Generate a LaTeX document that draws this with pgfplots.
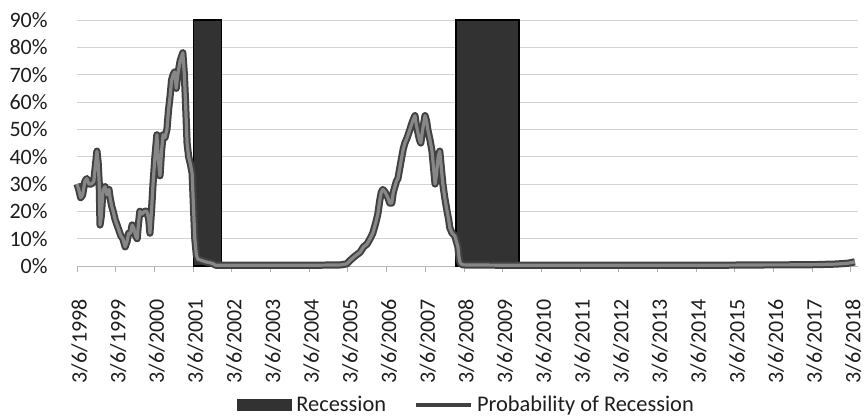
\documentclass[border=0pt]{standalone}
\usepackage{pgfplots}
\pgfplotsset{compat=1.18}
\usepackage{fontspec}
\setmainfont{Carlito}
\usetikzlibrary{calc}
\definecolor{recfill}{RGB}{50,50,50}
\definecolor{lineout}{RGB}{65,65,65}
\definecolor{linein}{RGB}{135,135,135}
\definecolor{txt}{RGB}{30,30,30}
\begin{document}
\begin{tikzpicture}
\begin{axis}[
  name=ax,
  width=390.5pt, height=123pt, scale only axis,
  xmin=1998.175, xmax=2018.36,
  ymin=0, ymax=90,
  xtick={1998.175,1999.175,2000.175,2001.175,2002.175,2003.175,2004.175,2005.175,2006.175,2007.175,2008.175,2009.175,2010.175,2011.175,2012.175,2013.175,2014.175,2015.175,2016.175,2017.175,2018.175},
  xticklabels={3/6/1998,3/6/1999,3/6/2000,3/6/2001,3/6/2002,3/6/2003,3/6/2004,3/6/2005,3/6/2006,3/6/2007,3/6/2008,3/6/2009,3/6/2010,3/6/2011,3/6/2012,3/6/2013,3/6/2014,3/6/2015,3/6/2016,3/6/2017,3/6/2018},
  ytick={0,10,...,90},
  yticklabel={\pgfmathprintnumber{\tick}\%},
  /pgf/number format/assume math mode=true,
  ticklabel style={font=\fontsize{11}{13}\selectfont, text=txt},
  xticklabel style={rotate=90, anchor=east, inner sep=0pt, xshift=-13.5pt, yshift=-1.2pt},
  yticklabel style={anchor=east, inner sep=0pt, xshift=-11.5pt},
  separate axis lines,
  axis x line*=bottom,
  axis y line*=left,
  x axis line style={draw=gray!55, thin, -},
  y axis line style={draw=none},
  tick align=outside,
  major tick length=3pt,
  xtick style={draw=gray!60, thin},
  ytick style={draw=none},
  ymajorgrids,
  grid style={draw=gray!35, thin},
  legend columns=2,
  legend style={at={(0.5,-0.565)}, anchor=center, draw=none, fill=none,
    font=\fontsize{11.2}{13}\selectfont, text=txt,
    cells={inner xsep=0.5pt},
    /tikz/every even column/.append style={column sep=12pt}},
  legend cell align=left,
  clip=false,
]
\addplot[fill=recfill, draw=black, line width=0.6pt,
  legend image code/.code={\fill[recfill] (0pt,-2.6pt) rectangle (27pt,2.6pt);}]
  coordinates {(2001.19,0) (2001.19,90) (2001.91,90) (2001.91,0)} -- cycle;
\addlegendentry{Recession}
\addplot[fill=recfill, draw=black, line width=0.6pt, forget plot]
  coordinates {(2007.97,0) (2007.97,90) (2009.6,90) (2009.6,0)} -- cycle;
\pgfplotstableread{
x y
1998.175 30
1998.22 28
1998.27 25
1998.32 26
1998.38 31
1998.43 32
1998.48 30
1998.55 30
1998.61 31
1998.66 38
1998.69 42
1998.72 38
1998.75 30
1998.77 15
1998.80 18
1998.85 28
1998.90 29
1998.95 26
1999.00 28
1999.03 25
1999.07 22
1999.11 20
1999.16 17
1999.21 15
1999.26 13
1999.31 11
1999.36 10
1999.42 7
1999.47 9
1999.51 12
1999.56 12
1999.60 15
1999.64 14
1999.69 11
1999.73 10
1999.76 15
1999.80 20
1999.85 19
1999.92 20
1999.98 20
2000.03 17
2000.06 12
2000.10 20
2000.14 30
2000.19 40
2000.24 48
2000.27 40
2000.32 33
2000.36 42
2000.40 48
2000.45 47
2000.50 50
2000.54 57
2000.58 62
2000.62 68
2000.66 70
2000.70 71
2000.74 65
2000.78 70
2000.84 75
2000.91 78
2000.95 70
2000.98 60
2001.02 45
2001.06 40
2001.11 37
2001.15 34
2001.19 20
2001.22 10
2001.26 4
2001.30 2.5
2001.40 2
2001.50 1.5
2001.60 1.2
2001.70 0.8
2001.75 0.3
2002.50 0.3
2003.50 0.3
2004.50 0.3
2005.00 0.4
2005.15 0.8
2005.23 2
2005.35 3.5
2005.49 5
2005.58 7
2005.67 8
2005.75 10
2005.82 12
2005.90 16
2005.95 19
2006.00 24
2006.04 27
2006.08 28
2006.14 27
2006.21 25
2006.26 23
2006.31 23
2006.35 27
2006.39 29
2006.43 31
2006.47 32
2006.52 36
2006.57 40
2006.61 43
2006.65 45
2006.71 47
2006.78 50
2006.85 53
2006.91 55
2006.94 52
2006.99 48.5
2007.03 46
2007.06 45
2007.11 50
2007.17 55
2007.21 53
2007.24 50
2007.30 46
2007.35 42
2007.39 36
2007.43 30
2007.47 34
2007.51 40
2007.55 42
2007.59 36
2007.63 30
2007.68 25
2007.74 20
2007.78 17
2007.81 14
2007.87 12
2007.94 11
2007.98 9
2008.02 7
2008.05 3
2008.08 1
2008.15 0.4
2009.00 0.3
2010.00 0.3
2011.00 0.3
2012.00 0.3
2013.00 0.3
2014.00 0.3
2015.00 0.3
2016.00 0.4
2016.50 0.4
2017.30 0.5
2017.80 0.7
2018.10 1.0
2018.28 1.5
}\probtable
\addplot[lineout, line width=3.6pt, line join=round,
  legend image code/.code={\draw[lineout, line width=2pt] (0pt,0pt) -- (27.5pt,0pt);}]
  table[x=x, y=y] {\probtable};
\addlegendentry{Probability of Recession}
\addplot[linein, line width=1.6pt, line join=round, forget plot]
  table[x=x, y=y] {\probtable};
\end{axis}
\pgfresetboundingbox
\path ($(ax.south west)+(-38.5pt,-75.5pt)$) rectangle ($(ax.north east)+(3.5pt,10pt)$);
\end{tikzpicture}
\end{document}
